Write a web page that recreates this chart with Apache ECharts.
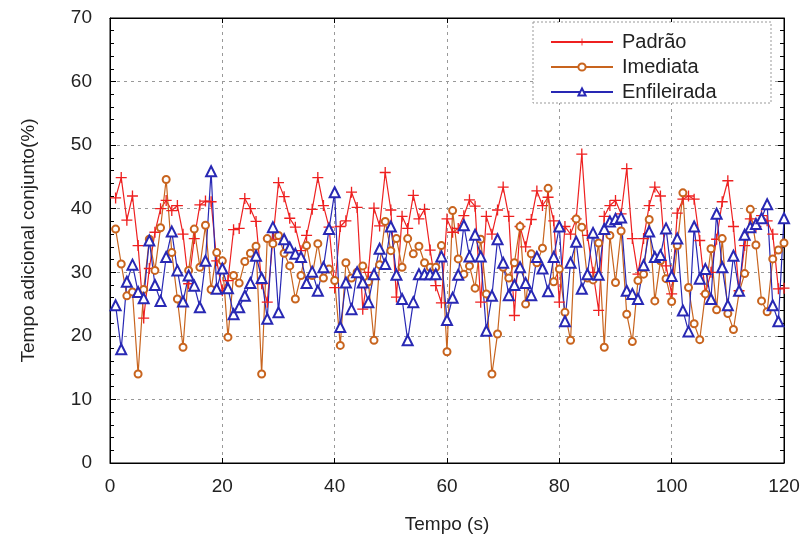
<!DOCTYPE html>
<html>
<head>
<meta charset="utf-8">
<script src="https://cdn.jsdelivr.net/npm/echarts@6/dist/echarts.min.js"></script>
<style>
html,body{margin:0;padding:0;background:#fff}
#main{width:803px;height:539px}
</style>
</head>
<body>
<div id="main"></div>
<script>
// tempo (s)
var tempo = [1,2,3,4,5,6,7,8,9,10,11,12,13,14,15,16,17,18,19,20,
  21,22,23,24,25,26,27,28,29,30,31,32,33,34,35,36,37,38,39,40,
  41,42,43,44,45,46,47,48,49,50,51,52,53,54,55,56,57,58,59,60,
  61,62,63,64,65,66,67,68,69,70,71,72,73,74,75,76,77,78,79,80,
  81,82,83,84,85,86,87,88,89,90,91,92,93,94,95,96,97,98,99,100,
  101,102,103,104,105,106,107,108,109,110,111,112,113,114,115,116,117,118,119,120];

var padrao = [41.7,44.9,38.2,42.0,34.2,22.8,30.6,36.3,40.0,41.3,39.7,40.5,36.0,28.2,35.3,40.6,41.2,41.1,31.8,27.1,
  28.7,36.7,36.9,41.6,40.0,38.0,28.2,25.3,35.2,44.1,41.9,38.5,37.1,33.4,35.8,39.9,44.9,40.5,37.1,27.6,
  37.2,38.1,42.6,40.2,24.2,30.0,40.1,37.3,45.7,39.8,26.1,38.8,36.9,42.1,38.4,39.9,33.5,27.9,25.2,38.4,
  36.3,36.9,38.9,41.4,40.4,25.3,38.8,36.0,39.8,43.4,38.8,23.2,37.2,34.0,38.3,42.8,40.5,41.8,38.1,25.3,
  37.2,36.0,38.4,48.6,35.8,30.0,24.0,38.8,40.5,41.3,39.2,46.3,35.3,29.7,35.3,40.5,43.4,42.0,31.0,26.6,
  39.3,41.5,42.0,41.5,35.0,26.6,30.0,35.2,41.1,44.4,37.2,27.1,34.2,38.4,37.2,38.9,38.1,36.0,27.4,27.5];

var imediata = [36.8,31.3,26.3,26.9,14.0,27.3,35.2,30.3,37.0,44.6,33.1,25.8,18.2,30.3,36.8,30.8,37.4,27.3,33.1,31.8,
  19.8,29.5,28.3,31.7,33.0,34.1,14.0,35.3,34.5,35.8,33.0,31.0,25.8,29.5,34.2,29.5,34.5,29.1,30.5,28.7,
  18.5,31.5,29.1,30.0,31.0,28.5,19.3,31.2,38.0,33.4,35.3,30.8,35.3,32.9,34.1,31.5,30.8,30.8,34.2,17.5,
  39.7,32.1,29.7,31.0,27.5,35.2,26.6,14.0,20.3,30.8,29.1,31.5,37.2,25.0,32.9,31.5,33.8,43.2,28.5,30.5,
  23.7,19.3,38.4,37.1,29.1,28.8,34.6,18.2,35.8,28.4,36.5,23.4,19.1,28.7,29.7,38.3,25.5,31.8,29.0,25.4,
  34.2,42.5,27.6,21.9,19.4,26.6,33.7,24.1,35.3,23.5,21.0,26.8,29.8,39.9,34.3,25.5,23.8,32.1,33.5,34.6];

var enfileirada = [24.8,17.9,28.5,31.2,26.9,25.9,35.0,28.0,25.5,32.4,36.4,30.3,25.4,29.5,27.9,24.5,31.8,45.9,27.4,30.6,
  27.5,23.4,24.5,26.3,28.3,32.6,29.1,22.7,37.1,23.7,35.2,33.9,32.9,32.4,28.3,30.1,27.1,30.8,36.8,42.6,
  21.4,28.4,24.2,30.0,28.4,25.3,29.7,33.7,31.3,37.2,29.6,25.8,19.3,25.3,29.7,29.7,29.7,29.7,32.5,22.5,
  26.0,29.6,37.4,32.5,35.9,32.5,20.8,26.3,35.2,31.5,26.4,28.0,30.8,28.3,26.4,32.4,30.6,27.0,32.4,37.2,
  22.3,31.5,34.8,27.4,29.7,36.2,29.6,36.8,38.0,38.4,38.6,27.1,26.6,25.8,31.1,36.4,32.4,32.7,36.9,29.4,
  35.3,24.0,20.7,37.2,29.0,30.5,25.8,39.2,30.8,24.8,32.6,27.1,35.9,37.1,37.6,38.5,40.7,24.8,22.3,38.5];

var nomes = ['Padrão', 'Imediata', 'Enfileirada'];
var cores = ['#ee2020', '#c8641e', '#2828b4'];

function pares(valores) {
  var out = [];
  for (var i = 0; i < tempo.length; i++) {
    out.push([tempo[i], valores[i]]);
  }
  return out;
}

var fonte = "'Liberation Sans Narrow', 'Liberation Sans', Arial, sans-serif";
var cruz = 'path://M4.4,0 H5.6 V4.4 H10 V5.6 H5.6 V10 H4.4 V5.6 H0 V4.4 H4.4 Z';

var myChart = echarts.init(document.getElementById('main'));
var option = {
  backgroundColor: '#fff',
  animation: false,
  grid: {
    left: 110,
    right: 19,
    top: 18,
    bottom: 76,
    show: true,
    borderColor: '#000',
    borderWidth: 1
  },
  legend: {
    data: nomes,
    orient: 'vertical',
    left: 545,
    top: 27,
    itemWidth: 62,
    itemHeight: 9,
    itemGap: 5,
    z: 10,
    textStyle: {fontSize: 20, color: '#222', fontFamily: fonte, padding: [0, 0, 0, 4]}
  },
  graphic: [{
    type: 'rect',
    z: 5,
    shape: {x: 533, y: 22, width: 238, height: 81},
    style: {fill: '#fff', stroke: '#999', lineWidth: 1, lineDash: [2, 2]}
  }],
  xAxis: [{
    type: 'value',
    min: 0,
    max: 120,
    interval: 20,
    name: 'Tempo (s)',
    nameLocation: 'middle',
    nameGap: 52,
    nameTextStyle: {fontSize: 19, color: '#222', fontFamily: fonte},
    axisLine: {show: true, onZero: false, lineStyle: {color: '#000'}},
    axisTick: {show: true, inside: true, length: 5, lineStyle: {color: '#000'}},
    axisLabel: {fontSize: 19, color: '#222', margin: 14, fontFamily: fonte},
    splitLine: {show: true, lineStyle: {color: '#999', type: [3, 4]}}
  }, {
    type: 'value',
    position: 'top',
    min: 0,
    max: 120,
    interval: 20,
    axisLine: {show: true, onZero: false, lineStyle: {color: '#000'}},
    axisTick: {show: true, inside: true, length: 5, lineStyle: {color: '#000'}},
    axisLabel: {show: false},
    splitLine: {show: false}
  }],
  yAxis: [{
    type: 'value',
    min: 0,
    max: 70,
    interval: 10,
    name: 'Tempo adicional conjunto(%)',
    nameLocation: 'middle',
    nameGap: 72,
    nameTextStyle: {fontSize: 19, color: '#222', fontFamily: fonte},
    axisLine: {show: true, onZero: false, lineStyle: {color: '#000'}},
    axisTick: {show: true, inside: true, length: 6, lineStyle: {color: '#000'}},
    minorTick: {show: true, splitNumber: 5, length: 4, lineStyle: {color: '#000'}},
    axisLabel: {fontSize: 19, color: '#222', margin: 18, fontFamily: fonte},
    splitLine: {show: true, lineStyle: {color: '#999', type: [3, 4]}}
  }, {
    type: 'value',
    position: 'right',
    min: 0,
    max: 70,
    interval: 10,
    axisLine: {show: true, onZero: false, lineStyle: {color: '#000'}},
    axisTick: {show: true, inside: true, length: 6, lineStyle: {color: '#000'}},
    minorTick: {show: true, splitNumber: 5, length: 4, lineStyle: {color: '#000'}},
    axisLabel: {show: false},
    splitLine: {show: false}
  }],
  series: [
    {
      name: nomes[0],
      type: 'line',
      data: pares(padrao),
      symbol: cruz,
      symbolSize: 11,
      color: cores[0],
      lineStyle: {width: 1.2, color: cores[0]},
      itemStyle: {color: cores[0]}
    },
    {
      name: nomes[1],
      type: 'line',
      data: pares(imediata),
      symbol: 'emptyCircle',
      symbolSize: 7,
      color: cores[1],
      lineStyle: {width: 1.2, color: cores[1]},
      itemStyle: {color: cores[1], borderColor: cores[1], borderWidth: 1.5}
    },
    {
      name: nomes[2],
      type: 'line',
      data: pares(enfileirada),
      symbol: 'emptyTriangle',
      symbolSize: 10,
      color: cores[2],
      lineStyle: {width: 1.2, color: cores[2]},
      itemStyle: {color: cores[2], borderColor: cores[2], borderWidth: 1.2}
    }
  ]
};
myChart.setOption(option);
</script>
</body>
</html>
